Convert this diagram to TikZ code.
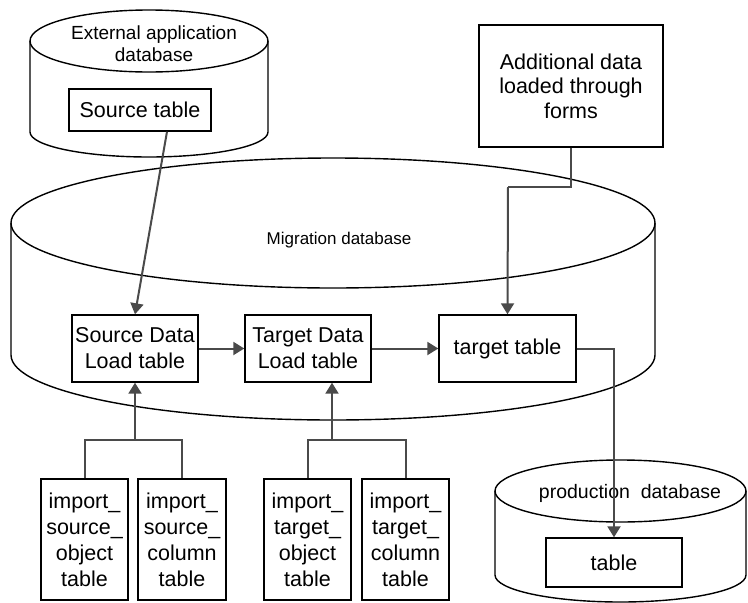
\documentclass[tikz,border=0pt]{standalone}
\usepackage{fontspec}
\setmainfont{Liberation Sans}
\usetikzlibrary{arrows.meta,calc}
\definecolor{conncol}{HTML}{4A4A4A}
\tikzset{
  outline/.style={draw=black,line width=1.4pt},
  boxnode/.style={outline,rectangle,inner sep=0pt,align=center,font=\fontsize{21.5}{26}\selectfont},
  lbl/.style={inner sep=0pt,align=center},
  link/.style={draw=conncol,line width=2pt},
  conn/.style={link,-{Triangle[length=11pt,width=13pt]}},
}
\begin{document}
\begin{tikzpicture}[x=1pt,y=-1pt]
\useasboundingbox (0,0) rectangle (748,603);
% cylinders
\draw[outline] (149,41) ellipse [x radius=119, y radius=31];
\draw[outline] (30,41) -- (30,132) arc[start angle=180,end angle=360,x radius=119,y radius=-25] -- (268,41);
\draw[outline] (333,223) ellipse [x radius=322, y radius=65];
\draw[outline] (11,223) -- (11,355) arc[start angle=180,end angle=360,x radius=322,y radius=-65] -- (655,223);
\draw[outline] (620.5,491) ellipse [x radius=125.5, y radius=31];
\draw[outline] (495,491) -- (495,575) arc[start angle=180,end angle=360,x radius=125.5,y radius=-27] -- (746,491);
% labels
\node[lbl,font=\fontsize{19}{22}\selectfont] (extlabel) at (154,44) {External application\\database};
\node[lbl,font=\fontsize{17}{20}\selectfont] (miglabel) at (339,240) {Migration database};
\node[lbl,font=\fontsize{19.5}{22}\selectfont] (prodlabel) at (630,493) {production\ \ database};
% boxes
\node[boxnode,minimum width=142pt,minimum height=42pt] (srctab) at (140,110) {Source table};
\node[boxnode,minimum width=184pt,minimum height=122pt,font=\fontsize{21.5}{24.5}\selectfont] (add) at (571,86) {Additional data\\loaded through\\forms};
\node[boxnode,minimum width=126pt,minimum height=67pt] (sdl) at (135,348.5) {Source Data\\Load table};
\node[boxnode,minimum width=126pt,minimum height=67pt] (tdl) at (308,348.5) {Target Data\\Load table};
\node[boxnode,minimum width=137pt,minimum height=67pt] (tt) at (507.5,348.5) {target table};
\node[boxnode,minimum width=87pt,minimum height=121pt] (iso) at (84.5,539.5) {import\_\\source\_\\object\\table};
\node[boxnode,minimum width=88pt,minimum height=121pt] (isc) at (182,539.5) {import\_\\source\_\\column\\table};
\node[boxnode,minimum width=87pt,minimum height=121pt] (ito) at (307.5,539.5) {import\_\\target\_\\object\\table};
\node[boxnode,minimum width=87pt,minimum height=121pt] (itc) at (405.5,539.5) {import\_\\target\_\\column\\table};
\node[boxnode,minimum width=136pt,minimum height=49pt] (tbl) at (614,562.5) {table};
% junction coordinates
\coordinate (srcout) at ($(srctab.south)+(27,0)$);
\coordinate (addbend) at (508,187);
\coordinate (j1) at (135,440);
\coordinate (j2) at (332,440);
\coordinate (tdlin) at ($(tdl.south)+(24,0)$);
% connectors
\draw[conn] (srcout) -- (sdl.north);
\draw[conn] (sdl.east) -- (tdl.west);
\draw[conn] (tdl.east) -- (tt.west);
\draw[link] (add.south) |- (addbend);
\draw[conn] (addbend) -- (tt.north);
\draw[conn] (tt.east) -| (tbl.north);
\draw[link] (iso.north) |- (isc.north |- j1) -- (isc.north);
\draw[conn] (j1) -- (sdl.south);
\draw[link] (ito.north) |- (itc.north |- j2) -- (itc.north);
\draw[conn] (j2) -- (tdlin);
\end{tikzpicture}
\end{document}
